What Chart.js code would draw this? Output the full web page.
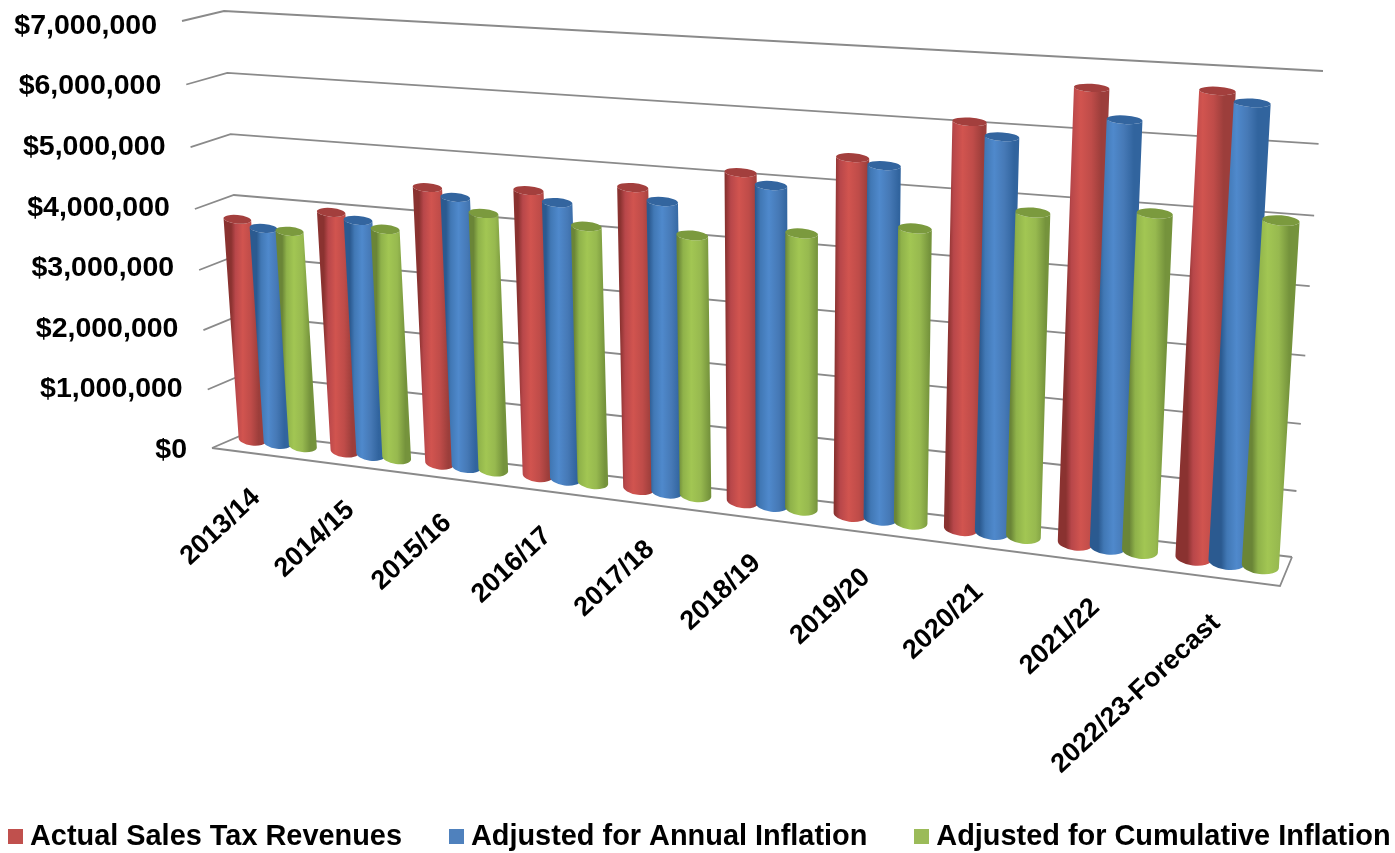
<!DOCTYPE html>
<html><head><meta charset="utf-8">
<style>html,body{margin:0;padding:0;background:#fff}canvas{display:block}</style>
<script src="https://cdn.jsdelivr.net/npm/chart.js@4"></script>
</head><body><canvas id="c" width="1395" height="853"></canvas>
<script>
const categories = ['2013/14','2014/15','2015/16','2016/17','2017/18','2018/19','2019/20','2020/21','2021/22','2022/23-Forecast'];
const actualRevenues = [3724000,3976000,4507000,4590000,4768000,5123000,5469000,6107000,6694000,6758000];
const annualInflation = [3615000,3885000,4387000,4440000,4592000,4965000,5387000,5925000,6280000,6624000];
const cumulativeInflation = [3605000,3779000,4172000,4108000,4111000,4284000,4500000,4872000,4995000,5035000];
const seriesNames = ['Actual Sales Tax Revenues','Adjusted for Annual Inflation','Adjusted for Cumulative Inflation'];
const seriesColors = ['#C0504D','#4F81BD','#9BBB59'];
const shades = [
  {edge:'#8a3230',mid:'#b8474a',hi:'#d1544f',low:'#bf4c49',end:'#9c3e3b',cap:'#a33f3d'},
  {edge:'#2b5a90',mid:'#4178b5',hi:'#4f89cc',low:'#4679b6',end:'#31649e',cap:'#33659f'},
  {edge:'#6a8537',mid:'#8fb24a',hi:'#a2c653',low:'#97b94f',end:'#75933c',cap:'#7b9a3e'}
];
const FONT = 'Liberation Sans';
const AREA = {left:212,right:1283,top:24,bottom:448};
const LEGEND_PAD = 54.5;

function quad(a,b,c,d){ // a:(0,0) b:(1,0) c:(1,1) d:(0,1)
  const dx1=b[0]-c[0],dx2=d[0]-c[0],dy1=b[1]-c[1],dy2=d[1]-c[1];
  const sx=a[0]-b[0]+c[0]-d[0],sy=a[1]-b[1]+c[1]-d[1];
  const den=dx1*dy2-dx2*dy1;
  const g=(sx*dy2-dx2*sy)/den,h=(dx1*sy-sx*dy1)/den;
  const A=b[0]-a[0]+g*b[0],B=d[0]-a[0]+h*d[0],C=a[0];
  const D=b[1]-a[1]+g*b[1],E=d[1]-a[1]+h*d[1],F=a[1];
  return (u,t)=>{const w=g*u+h*t+1;return [(A*u+B*t+C)/w,(D*u+E*t+F)/w];};
}
const barPlane = quad([232,437],[1288,569.3],[1319,79],[202,14]);
// wall corners of the 3-D box, as functions of the value fraction t
const wallFront = t=>[212-30*t, 448-t*(406.6+20.4*t)];
const wallBackL = t=>[247-23*t, 433-t*(409.2+12.8*t)];
const wallBackR = t=>[1292+31*t, 557-t*(458+28*t)];
const floorFront = [1280,586];

function uOf(x){return (x-AREA.left)/(AREA.right-AREA.left);}
function tOf(y){return (AREA.bottom-y)/(AREA.bottom-AREA.top);}
function line(ctx,pts){ctx.beginPath();pts.forEach((p,i)=>i?ctx.lineTo(p[0],p[1]):ctx.moveTo(p[0],p[1]));ctx.stroke();}

function cylinder(ctx,el,shade){
  const {x,y,base,width}=el.getProps(['x','y','base','width'],true);
  const hw=width*0.55, t=tOf(y), t0=tOf(base);
  const c=(tt)=>{ // edge points at height tt, same pixel width top and bottom
    const m=barPlane(uOf(x),tt), a=barPlane(uOf(x-hw),tt), b=barPlane(uOf(x+hw),tt);
    const a0=barPlane(uOf(x-hw),t0), b0=barPlane(uOf(x+hw),t0);
    const half=Math.hypot(b0[0]-a0[0],b0[1]-a0[1])/2, len=Math.hypot(b[0]-a[0],b[1]-a[1]);
    const ux=(b[0]-a[0])/len, uy=(b[1]-a[1])/len;
    return [[m[0]-ux*half,m[1]-uy*half],[m[0]+ux*half,m[1]+uy*half]];
  };
  const [tl,tr]=c(t),[bl,br]=c(t0);
  const ell=(l,r,k)=>{const cx=(l[0]+r[0])/2,cy=(l[1]+r[1])/2,dx=r[0]-l[0],dy=r[1]-l[1],rx=Math.hypot(dx,dy)/2;return {cx,cy,rx,ry:rx*2*k,rot:Math.atan2(dy,dx)};};
  const top=ell(tl,tr,0.21-0.1*t),bot=ell(bl,br,0.22);
  const gl=[(tl[0]+bl[0])/2,(tl[1]+bl[1])/2],gr=[(tr[0]+br[0])/2,(tr[1]+br[1])/2];
  const g=ctx.createLinearGradient(gl[0],gl[1],gr[0],gl[1]);
  g.addColorStop(0,shade.edge);g.addColorStop(0.16,shade.mid);g.addColorStop(0.42,shade.hi);g.addColorStop(0.72,shade.low);g.addColorStop(1,shade.end);
  ctx.beginPath();
  ctx.moveTo(tl[0],tl[1]);
  ctx.lineTo(bl[0],bl[1]);
  ctx.ellipse(bot.cx,bot.cy,bot.rx,bot.ry,bot.rot,Math.PI,0,true);
  ctx.lineTo(tr[0],tr[1]);
  ctx.ellipse(top.cx,top.cy,top.rx,top.ry,top.rot,0,Math.PI,false);
  ctx.closePath();
  ctx.fillStyle=g;ctx.fill();
  ctx.beginPath();
  ctx.ellipse(top.cx,top.cy,top.rx,top.ry,top.rot,0,Math.PI*2);
  ctx.fillStyle=shade.cap;ctx.fill();
}

const scene3d = {
  id:'scene3d',
  afterLayout(chart){
    chart.scales.x.bottom=852;
    const lg=chart.legend;
    lg.top=768;
    // keep all three entries on one row, first entry starting at the reference position
    lg.left=0;lg.right=3000;
    lg.lineWidths=[3000+LEGEND_PAD-2*15.5];
  },
  beforeDraw(chart){
    const xs=chart.scales.x, ys=chart.scales.y;
    xs.getLabelItems().forEach((it,i)=>{
      const u=uOf(xs.getPixelForTick(i));
      const p=barPlane(u,0);
      it.options.translation[0]=p[0]-33+u*12;
      it.options.translation[1]=p[1]+39+u*7;
    });
    ys.getLabelItems().forEach((it,i)=>{
      const py=ys.getPixelForTick(i);
      it.options.translation[0]=wallFront(tOf(py))[0]-25;
      it.options.translation[1]=py+2;
    });
  },
  beforeDatasetsDraw(chart){
    const ctx=chart.ctx, ys=chart.scales.y;
    ctx.save();
    ctx.strokeStyle='#8a8a8a';ctx.lineWidth=1.8;ctx.lineJoin='miter';
    ys.ticks.forEach((tk)=>{
      const t=tOf(ys.getPixelForValue(tk.value));
      line(ctx,[wallFront(t),wallBackL(t),wallBackR(t)]);
    });
    line(ctx,[wallFront(0),floorFront,wallBackR(0)]);
    chart.data.datasets.forEach((ds,di)=>{
      chart.getDatasetMeta(di).data.forEach(el=>cylinder(ctx,el,shades[di]));
    });
    ctx.restore();
    return false;
  }
};

function swatch(color){
  const s=document.createElement('canvas');s.width=15;s.height=15;
  const c=s.getContext('2d');c.fillStyle=color;c.fillRect(0,0,15,15);return s;
}
const swatches=seriesColors.map(swatch);

new Chart(document.getElementById('c'),{
  type:'bar',
  data:{labels:categories,datasets:[
    {label:seriesNames[0],data:actualRevenues,backgroundColor:seriesColors[0]},
    {label:seriesNames[1],data:annualInflation,backgroundColor:seriesColors[1]},
    {label:seriesNames[2],data:cumulativeInflation,backgroundColor:seriesColors[2]}
  ]},
  plugins:[scene3d],
  options:{
    responsive:false,animation:false,
    layout:{padding:{top:AREA.top,right:1395-AREA.right,left:0,bottom:0}},
    datasets:{bar:{categoryPercentage:0.825,barPercentage:1}},
    scales:{
      x:{
        grid:{display:false},border:{display:false},
        afterFit(s){s.height=853-s.chart.legend.height-AREA.bottom;},
        ticks:{autoSkip:false,minRotation:43,maxRotation:43,color:'#000',font:{family:FONT,size:27,weight:'bold'}}
      },
      y:{
        min:0,max:7000000,
        grid:{display:false,drawTicks:false},border:{display:false},
        afterFit(s){s.width=AREA.left;},
        ticks:{stepSize:1000000,color:'#000',padding:0,font:{family:FONT,size:28.5,weight:'bold'},
          callback:v=>'$'+Number(v).toLocaleString('en-US')}
      }
    },
    plugins:{
      tooltip:{enabled:false},
      legend:{position:'bottom',labels:{
        usePointStyle:true,pointStyleWidth:0.01,padding:LEGEND_PAD,color:'#000',
        font:{family:FONT,size:28.9,weight:'bold'},
        generateLabels(chart){
          const items=Chart.defaults.plugins.legend.labels.generateLabels(chart);
          items.forEach((it,i)=>{it.pointStyle=swatches[i];});
          return items;
        }
      }}
    }
  }
});
</script></body></html>
